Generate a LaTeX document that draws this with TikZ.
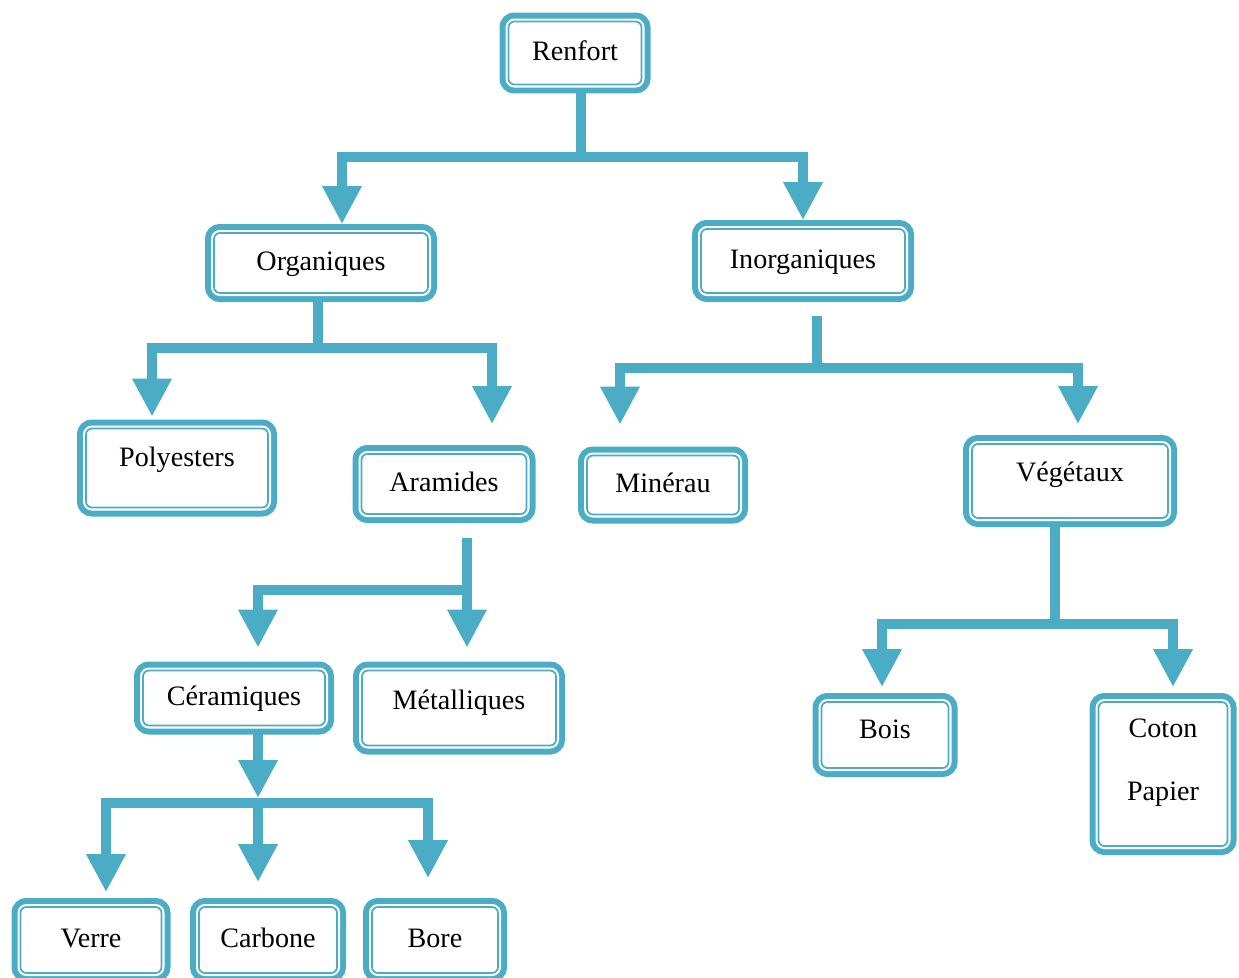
\documentclass[tikz,border=0pt]{standalone}
\usepackage{fontspec}
\setmainfont{Liberation Serif}
\usetikzlibrary{arrows.meta,calc}
\definecolor{renfblue}{RGB}{75,172,198}
\tikzset{
  box/.style 2 args = {draw=renfblue, line width=0.035cm, fill=white, rounded corners=0.12cm,
    preaction={draw=renfblue, line width=0.36cm},
    preaction={draw=white, line width=0.12cm},
    inner sep=0pt, minimum width=(#1-12)*0.02cm, minimum height=(#2-12)*0.02cm,
    text height=12pt, text depth=4pt, font=\fontsize{16}{19}\selectfont},
  lift/.style = {text depth=#1},
  trunk/.style = {draw=renfblue, line width=0.21cm},
  branch/.style = {trunk, -{Triangle[length=0.76cm, width=0.74cm]}}
}

\begin{document}
\begin{tikzpicture}[x=0.02cm, y=-0.02cm]
        \clip (0,0) rectangle (1239,977);

        % boxes
        \node [box={145}{75}] (renfort) at (575,53) {Renfort};

        \node [box={226}{72}] (organiques)   at (321,263) {Organiques};
        \node [box={216}{76}] (inorganiques) at (803,261) {Inorganiques};

        \node [box={194}{91}, lift=14.2pt] (polyesters) at (177,468) {Polyesters};
        \node [box={177}{72}] (aramides) at (444,484) {Aramides};
        \node [box={164}{71}] (minerau)  at (663,485) {Minérau};
        \node [box={208}{86}, lift=12pt] (vegetaux) at (1070,481) {Végétaux};

        \node [box={194}{67}] (ceramiques) at (234,698) {Céramiques};
        \node [box={206}{87}, lift=10.8pt] (metalliques) at (459,708) {Métalliques};
        \node [box={139}{78}, lift=8.6pt] (bois) at (885,735) {Bois};
        \node [box={141}{156}, align=center, text height=34pt] (coton) at (1163,774) {Coton\\[17pt]Papier};

        \node [box={153}{78}] (verre)   at (91,940)  {Verre};
        \node [box={150}{78}] (carbone) at (268,940) {Carbone};
        \node [box={138}{78}] (bore)    at (435,940) {Bore};

        % Renfort
        \coordinate (r0) at (581,157);
        \draw [trunk, shorten <=0.12cm] (renfort.south -| r0) -- (r0);
        \draw [branch] (r0) -| ($(organiques.north)+(21,-8)$);
        \draw [branch] (r0) -| ($(inorganiques.north)+(0,-8)$);

        % Organiques
        \coordinate (o0) at (318,348);
        \draw [trunk, shorten <=0.12cm] (organiques.south -| o0) -- (o0);
        \draw [branch] (o0) -| ($(polyesters.north)+(-25,-11)$);
        \draw [branch] (o0) -| ($(aramides.north)+(48,-29)$);

        % Inorganiques
        \coordinate (i0) at (817,368);
        \draw [trunk, shorten <=0.44cm] (inorganiques.south -| i0) -- (i0);
        \draw [branch] (i0) -| ($(minerau.north)+(-43,-30)$);
        \draw [branch] (i0) -| ($(vegetaux.north)+(8,-19)$);

        % Aramides
        \coordinate (a0) at (467,590);
        \draw [branch, shorten <=0.46cm] (aramides.south -| a0) -- ($(metalliques.north)+(8,-22)$);
        \draw [branch] (a0) -| ($(ceramiques.north)+(24,-22)$);

        % Vegetaux
        \coordinate (v0) at (1055,624);
        \draw [trunk, shorten <=0.12cm] (vegetaux.south -| v0) -- (v0);
        \draw [branch] (v0) -| ($(bois.north)+(-3,-14)$);
        \draw [branch] (v0) -| ($(coton.north)+(10,-14)$);

        % Ceramiques
        \coordinate (c0) at (258,803);
        \draw [branch, shorten <=0.12cm] (ceramiques.south -| c0) -- ($(c0)+(0,-5)$);
        \draw [branch] (c0) -| ($(verre.north)+(15,-14)$);
        \draw [branch] (c0) -- ($(carbone.north)+(-10,-24)$);
        \draw [branch] (c0) -| ($(bore.north)+(-7,-28)$);
    \end{tikzpicture}
\end{document}
